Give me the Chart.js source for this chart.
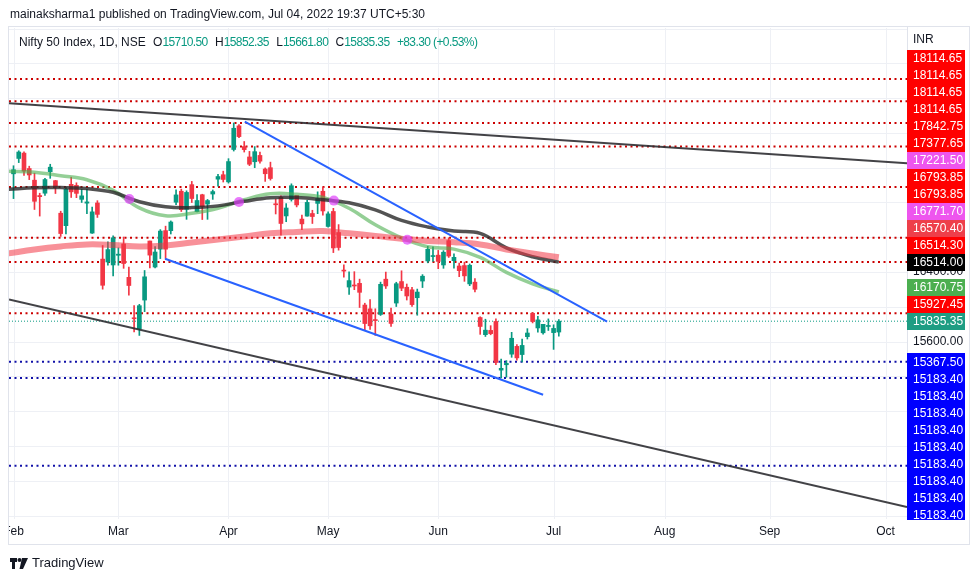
<!DOCTYPE html>
<html>
<head>
<meta charset="utf-8">
<title>Nifty 50 Index, 1D, NSE</title>
<script src="https://cdn.jsdelivr.net/npm/chart.js@4.4.1/dist/chart.umd.min.js"></script>
<style>
  html, body { margin: 0; padding: 0; background: #fff; }
  body { width: 979px; height: 581px; position: relative; overflow: hidden;
         font-family: "Liberation Sans", Arial, sans-serif; color: #131722; }
  #chart { position: absolute; left: 0; top: 0; }
  #published { position: absolute; left: 10px; top: 7px; font-size: 12px; white-space: nowrap; }
  #legend { position: absolute; left: 19px; top: 35px; font-size: 12px; white-space: nowrap; }
  #legend span { margin-left: 4px; }
  #legend .v { color: #089981; margin-left: 0; letter-spacing: -0.6px; }
  #footer { position: absolute; left: 10px; top: 555px; font-size: 13px; white-space: nowrap; }
  #footer svg { vertical-align: -2px; margin-right: 4px; }
</style>
</head>
<body>
<canvas id="chart" width="979" height="581"></canvas>
<div id="published">mainaksharma1 published on TradingView.com, Jul 04, 2022 19:37 UTC+5:30</div>
<div id="legend">Nifty 50 Index, 1D, NSE <span>O<span class="v">15710.50</span></span> <span>H<span class="v">15852.35</span></span> <span>L<span class="v">15661.80</span></span> <span>C<span class="v">15835.35</span></span> <span class="v" style="margin-left:4px">+83.30 (+0.53%)</span></div>
<div id="footer"><svg width="18" height="11" viewBox="0 0 18 11"><path d="M0 0h7v4H5v7H2V4H0z" fill="#131722"/><circle cx="9.5" cy="2" r="2" fill="#131722"/><path d="M12 0h6l-5 11H9.5z" fill="#131722"/></svg>TradingView</div>
<script>
// daily bars, Feb 1 2022 .. Jul 4 2022 (bar index 0..104)
var opens = [17529.45,17706.20,17767.75,17590.20,17456.30,17279.85,17306.55,17553.95,17451.00,17076.55,
  16933.25,17408.45,17396.55,17236.05,17192.25,16847.95,17194.50,16548.90,16515.65,16481.60,
  16593.10,16723.20,16339.45,15867.95,15747.75,16078.00,16757.10,16457.90,16663.00,16876.65,
  16876.00,17202.90,17329.50,17120.40,17405.05,17094.95,17289.00,17181.85,17297.20,17468.15,
  17519.20,17436.90,17809.10,18080.60,17842.75,17723.30,17668.30,17740.90,17584.85,17599.90,
  17183.45,17258.95,17045.25,17234.60,17281.65,17009.05,17043.15,17073.35,17189.50,17329.25,
  16924.45,17096.60,16854.75,16415.55,16227.70,16248.90,16270.05,16021.10,15977.00,15845.10,
  15912.60,16318.15,15917.40,16043.80,16290.95,16225.55,16196.35,16105.00,16296.60,16527.90,
  16578.45,16594.40,16481.65,16761.65,16530.70,16469.60,16474.95,16263.85,16283.95,15877.55,
  15680.25,15729.25,15832.25,15272.65,15334.50,15455.95,15545.65,15451.55,15657.35,15926.20,
  15757.45,15701.70,15774.50,15703.70,15710.50];
var highs = [17622.40,17794.60,17781.15,17617.30,17536.75,17306.45,17477.15,17639.45,17454.75,17099.60,
  17375.00,17490.60,17426.40,17351.00,17351.05,17148.55,17220.70,16705.25,16748.80,16815.90,
  16678.50,16803.05,16456.00,16013.45,16028.75,16418.05,16757.30,16694.40,16887.95,16927.75,
  16987.90,17344.60,17353.35,17334.40,17442.40,17291.75,17294.90,17235.10,17343.65,17522.50,
  17559.80,17703.70,18114.65,18095.45,17901.00,17787.50,17842.75,17779.05,17597.30,17663.65,
  17237.75,17275.65,17186.90,17414.70,17281.65,17054.30,17223.85,17110.70,17322.50,17377.65,
  17092.25,17132.85,16945.70,16484.20,16403.70,16404.55,16318.75,16041.95,16083.60,15977.95,
  16284.25,16399.80,15984.75,16283.05,16414.70,16262.80,16223.35,16204.45,16370.60,16695.50,
  16690.75,16649.20,16646.40,16793.85,16610.95,16503.35,16514.30,16492.80,16324.70,15886.15,
  15858.00,15783.65,15863.15,15400.40,15382.50,15707.25,15565.40,15628.45,15749.25,15927.45,
  15892.10,15800.00,15861.60,15793.95,15852.35];
var lows = [17244.55,17658.50,17511.15,17462.75,17119.40,17043.65,17280.65,17477.60,17303.00,16809.65,
  16839.25,17257.70,17255.60,17200.00,17070.70,16843.80,17027.85,16203.25,16478.30,16356.30,
  16478.65,16442.95,16133.80,15711.45,15671.45,15944.60,16447.90,16447.50,16555.00,16555.00,
  16837.85,17175.75,17096.40,17006.30,17199.60,17091.15,17003.90,17006.30,17235.70,17387.20,
  17435.20,17422.70,17791.40,17943.70,17779.85,17623.70,17600.55,17650.95,17442.35,17457.40,
  17067.85,16824.70,16978.95,17215.50,17149.20,16888.70,17042.90,16958.45,17071.05,17053.25,
  16917.25,16623.95,16651.85,16340.90,16142.10,16197.30,15992.60,15735.75,15740.85,15671.45,
  15900.80,16211.20,15775.20,16003.85,16185.75,16078.60,16006.25,15903.70,16221.95,16506.15,
  16521.90,16438.85,16443.05,16567.90,16444.55,16347.10,16293.50,16243.85,16172.60,15684.00,
  15659.45,15678.90,15335.10,15183.40,15191.10,15419.85,15385.95,15367.50,15630.00,15815.50,
  15710.15,15685.25,15728.50,15511.05,15661.80];
var closes = [17576.85,17780.00,17560.20,17516.30,17213.60,17266.75,17463.80,17605.85,17374.75,16842.80,
  17352.45,17322.20,17304.60,17276.30,17206.65,17092.20,17063.25,16247.95,16658.40,16793.90,
  16605.95,16498.05,16245.35,15863.15,16013.45,16345.35,16594.90,16630.45,16871.30,16663.00,
  16975.35,17287.05,17117.60,17315.50,17245.65,17222.75,17153.00,17222.00,17325.30,17498.25,
  17464.75,17670.45,18053.40,17957.40,17807.65,17639.55,17784.35,17674.95,17530.30,17475.65,
  17173.65,16958.65,17136.55,17392.60,17171.95,16953.95,17200.80,17038.40,17245.05,17102.55,
  17069.10,16677.60,16682.65,16411.25,16301.85,16240.05,16167.10,15808.00,15782.15,15842.30,
  16259.30,16240.30,15809.40,16266.15,16214.70,16125.15,16025.80,16170.15,16352.45,16661.40,
  16584.55,16522.75,16628.00,16584.30,16569.55,16416.35,16356.25,16478.10,16201.80,15774.40,
  15732.10,15692.15,15360.60,15293.50,15350.15,15638.80,15413.30,15556.65,15699.25,15832.05,
  15850.20,15799.10,15780.25,15752.05,15835.35];

// moving averages at these bar indexes
var maBars  = [-1, 4, 9, 14, 19, 24, 29, 34, 39, 44, 49, 54, 59, 64, 69, 74, 79, 84, 89, 94, 99, 104];
var maFast  = [17559,17547,17507,17461,17340,17138,17047,17075,17133,17231,17300,17294,17259,17133,16943,16793,16691,16664,16569,16396,16265,16171];
var maMid   = [17351,17369,17371,17360,17317,17208,17150,17141,17161,17213,17254,17256,17231,17196,17115,16994,16919,16871,16845,16678,16576,16514];
var maSlow  = [16614,16660,16695,16718,16712,16695,16706,16741,16775,16810,16845,16860,16871,16845,16816,16784,16758,16744,16718,16660,16614,16570];
var crossBars   = [22.1, 43, 61.1, 75.1];
var crossPrices = [17240, 17205, 17221.5, 16771.7];

// drawn levels and trend lines
var redLevels  = [18619, 18365, 18114.65, 17842.75, 17377.65, 16793.85, 16514.30, 15927.45];
var blueLevels = [15367.50, 15183.40, 14172];
var lastPrice  = 15835.35;
var channelBars   = [[-0.86, 170.4], [-0.86, 170.4]];
var channelPrices = [[18342, 17651], [16084, 13700]];
var wedgeBars     = [[44.1, 113.2], [28.9, 101]];
var wedgePrices   = [[18129, 15831], [16553, 14990]];

// price scale labels on the right
var axisLabelValues = [18114.65, 18114.65, 18114.65, 18114.65, 17842.75, 17377.65, 17221.50, 16793.85, 16793.85,
  16771.70, 16570.40, 16514.30, 16514.00, 16170.75, 15927.45, 15835.35, 15367.50,
  15183.40, 15183.40, 15183.40, 15183.40, 15183.40, 15183.40, 15183.40, 15183.40, 15183.40];
var axisLabelColors = ['#ff0000', '#ff0000', '#ff0000', '#ff0000', '#ff0000', '#ff0000', '#ee55ee', '#ff0000', '#ff0000',
  '#ee55ee', '#ee3f4a', '#ff0000', '#000000', '#4caf50', '#ff0000', '#1e9d83', '#0000ff',
  '#0000ff', '#0000ff', '#0000ff', '#0000ff', '#0000ff', '#0000ff', '#0000ff', '#0000ff', '#0000ff'];
var monthNames = ['Feb', 'Mar', 'Apr', 'May', 'Jun', 'Jul', 'Aug', 'Sep', 'Oct'];
var monthBars  = [0, 20, 41, 60, 81, 103, 124.2, 144.2, 166.3];
var priceStep = 400;

var UP = '#089981', DOWN = '#f23645';
var X_MIN = -0.86, X_MAX = 170.4;

function levelLine(v, color, dash, width) {
  return { type: 'line', data: [{x: X_MIN, y: v}, {x: X_MAX, y: v}], borderColor: color, borderWidth: width,
           borderDash: dash, pointRadius: 0, order: 6, clip: 0 };
}
function segment(bars, prices, color) {
  return { type: 'line', data: [{x: bars[0], y: prices[0]}, {x: bars[1], y: prices[1]}], borderColor: color,
           borderWidth: 2, pointRadius: 0, order: 1, clip: 0 };
}
function maLine(values, color, width) {
  return { type: 'line', data: maBars.map(function(b, i) { return {x: b, y: values[i]}; }), borderColor: color,
           borderWidth: width, pointRadius: 0, tension: 0.4, order: 3, clip: 0 };
}

var candleColors = closes.map(function(c, i) { return c >= opens[i] ? UP : DOWN; });
var datasets = [];
redLevels.forEach(function(v) { datasets.push(levelLine(v, '#cc0000', [2, 3.5], 2)); });
blueLevels.forEach(function(v) { datasets.push(levelLine(v, '#1010a8', [2, 3.5], 2)); });
datasets.push(levelLine(lastPrice, '#089981', [1, 2], 1));
datasets.push({ type: 'bar', data: lows.map(function(l, i) { return {x: i, y: [l, highs[i]]}; }),
  backgroundColor: candleColors, barThickness: 1, grouped: false, order: 5, clip: 0 });
datasets.push({ type: 'bar', data: opens.map(function(o, i) { return {x: i, y: [o, closes[i]]}; }),
  backgroundColor: candleColors, barThickness: 4, minBarLength: 1, grouped: false, order: 4, clip: 0 });
datasets.push(maLine(maSlow, 'rgba(242,54,69,0.55)', 6));
datasets.push(maLine(maMid, 'rgba(40,40,40,0.8)', 3.5));
datasets.push(maLine(maFast, 'rgba(76,175,80,0.6)', 3.5));
datasets.push({ type: 'line', data: crossBars.map(function(b, i) { return {x: b, y: crossPrices[i]}; }),
  showLine: false, pointRadius: 5, pointBorderWidth: 0, pointBackgroundColor: 'rgba(224,64,251,0.7)', order: 2, clip: 0 });
channelBars.forEach(function(b, i) { datasets.push(segment(b, channelPrices[i], 'rgba(45,45,50,0.9)')); });
wedgeBars.forEach(function(b, i) { datasets.push(segment(b, wedgePrices[i], '#2962ff')); });

var tvPlugin = {
  id: 'tvPlugin',
  beforeDatasetsDraw: function(chart) {
    var ctx = chart.ctx, a = chart.chartArea, xs = chart.scales.x, ys = chart.scales.y;
    ctx.save();
    ctx.strokeStyle = '#eef0f5';
    ctx.lineWidth = 1;
    for (var v = Math.ceil(ys.min / priceStep) * priceStep; v <= ys.max; v += priceStep) {
      var y = Math.round(ys.getPixelForValue(v)) + 0.5;
      ctx.beginPath(); ctx.moveTo(a.left, y); ctx.lineTo(a.right, y); ctx.stroke();
    }
    monthBars.forEach(function(b) {
      var x = Math.round(xs.getPixelForValue(b)) + 0.5;
      ctx.beginPath(); ctx.moveTo(x, a.top); ctx.lineTo(x, a.bottom); ctx.stroke();
    });
    ctx.restore();
  },
  afterDraw: function(chart) {
    var ctx = chart.ctx, a = chart.chartArea, xs = chart.scales.x, ys = chart.scales.y;
    ctx.save();
    // frame
    ctx.strokeStyle = '#e0e3eb';
    ctx.lineWidth = 1;
    ctx.strokeRect(a.left - 0.5, a.top - 1.5, 970 - a.left, 546 - a.top);
    ctx.beginPath(); ctx.moveTo(a.right + 0.5, a.top - 1); ctx.lineTo(a.right + 0.5, a.bottom); ctx.stroke();
    // month labels
    ctx.save();
    ctx.beginPath(); ctx.rect(a.left, a.bottom, a.right - a.left, 40); ctx.clip();
    ctx.fillStyle = '#131722';
    ctx.font = '12px "Liberation Sans", Arial, sans-serif';
    ctx.textAlign = 'center'; ctx.textBaseline = 'middle';
    monthNames.forEach(function(m, i) { ctx.fillText(m, xs.getPixelForValue(monthBars[i]), 532); });
    ctx.restore();
    // price scale
    ctx.font = '12px "Liberation Sans", Arial, sans-serif';
    ctx.textAlign = 'left'; ctx.textBaseline = 'middle';
    ctx.fillStyle = '#131722';
    ctx.fillText('INR', 913, 40);
    ctx.beginPath(); ctx.rect(a.right, a.top, 70, a.bottom - a.top + 1); ctx.clip();
    for (var v = Math.ceil(ys.min / priceStep) * priceStep; v <= ys.max; v += priceStep) {
      var ty = ys.getPixelForValue(v);
      if (ty > 48) ctx.fillText(v.toFixed(2), 913, ty);
    }
    var h = 17, pos = axisLabelValues.map(function(v) { return ys.getPixelForValue(v); });
    var p = axisLabelValues.indexOf(lastPrice);
    for (var i = p - 1; i >= 0; i--) pos[i] = Math.min(pos[i], pos[i + 1] - h);
    for (var j = p + 1; j < pos.length; j++) pos[j] = Math.max(pos[j], pos[j - 1] + h);
    axisLabelValues.forEach(function(v, k) {
      ctx.fillStyle = axisLabelColors[k];
      ctx.fillRect(a.right, Math.round(pos[k] - h / 2), 58, h);
      ctx.fillStyle = '#ffffff';
      ctx.fillText(v.toFixed(2), 913, pos[k] + 0.5);
    });
    ctx.restore();
  }
};

new Chart(document.getElementById('chart'), {
  type: 'bar',
  data: { datasets: datasets },
  options: {
    responsive: false,
    animation: false,
    devicePixelRatio: 1,
    layout: { padding: { left: 9, right: 72, top: 28, bottom: 62 } },
    plugins: { legend: { display: false }, tooltip: { enabled: false } },
    scales: {
      x: { type: 'linear', min: X_MIN, max: X_MAX, offset: false, display: false },
      y: { type: 'linear', min: 13561, max: 19206, display: false }
    }
  },
  plugins: [tvPlugin]
});
</script>
</body>
</html>
